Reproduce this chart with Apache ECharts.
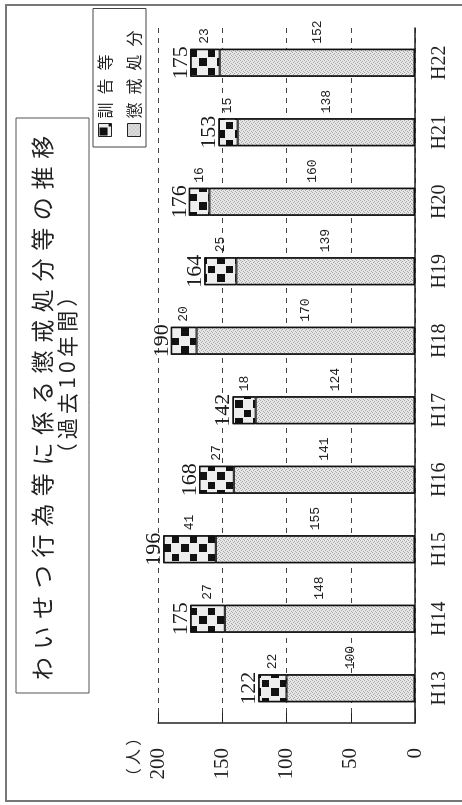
<!DOCTYPE html>
<html>
<head>
<meta charset="utf-8">
<script src="https://cdn.jsdelivr.net/npm/echarts@6/dist/echarts.min.js"></script>
<style>
  html, body { margin: 0; padding: 0; background: #fff; overflow: hidden; }
  #wrap { width: 462px; height: 805px; position: relative; overflow: hidden; }
  /* the scan is turned on its side: draw upright, then rotate */
  #chart {
    position: absolute; left: 0; top: 0;
    width: 805px; height: 462px;
    transform-origin: 0 0;
    transform: translate(0, 805px) rotate(-90deg);
  }
</style>
</head>
<body>
<div id="wrap"><div id="chart"></div></div>
<script>
var years = ['H13', 'H14', 'H15', 'H16', 'H17', 'H18', 'H19', 'H20', 'H21', 'H22']
var kunkoku = [22, 27, 41, 27, 18, 20, 25, 16, 15, 23]        // 訓告等
var choukai = [100, 148, 155, 141, 124, 170, 139, 160, 138, 152] // 懲戒処分
var totals = [122, 175, 196, 168, 142, 190, 164, 176, 153, 175]
var valueTicks = [0, 50, 100, 150, 200]

var serif = '"Liberation Serif", "DejaVu Serif", serif'
var mono = '"Liberation Mono", "DejaVu Sans Mono", monospace'
var jp = '"Noto Sans CJK JP", sans-serif'

// fill patterns (checker for 訓告等, grey stipple for 懲戒処分)
function checker() {
  var c = document.createElement('canvas')
  c.width = 18; c.height = 18
  var g = c.getContext('2d')
  g.fillStyle = '#eeeeee'; g.fillRect(0, 0, 18, 18)
  g.fillStyle = '#111'
  g.fillRect(1, 1, 8, 8)
  g.fillRect(10, 10, 7, 7)
  return c
}
function stipple() {
  var c = document.createElement('canvas')
  c.width = 4; c.height = 4
  var g = c.getContext('2d')
  g.fillStyle = '#e6e6e6'; g.fillRect(0, 0, 4, 4)
  g.fillStyle = '#a8a8a8'
  g.fillRect(0, 0, 1, 1); g.fillRect(2, 1, 1, 1); g.fillRect(1, 3, 1, 1); g.fillRect(3, 2, 1, 1)
  return c
}
function spaced(s, sp) {
  return s.split('').join(sp)
}

var chart = echarts.init(document.getElementById('chart'))

chart.setOption({
  backgroundColor: '#fff',
  animation: false,
  grid: { left: 82, right: 28, top: 158, bottom: 47 },
  legend: {
    data: ['訓告等', '懲戒処分'],
    orient: 'vertical',
    left: 658,
    top: 93,
    itemWidth: 13,
    itemHeight: 13,
    itemGap: 13,
    padding: [4, 22, 4, 10],
    borderColor: '#444',
    borderWidth: 1,
    icon: 'rect',
    itemStyle: { borderColor: '#222', borderWidth: 1 },
    formatter: function (name) { return spaced(name, '\u2002') },
    textStyle: { fontFamily: jp, fontSize: 16, color: '#222' }
  },
  xAxis: {
    type: 'category',
    data: years,
    axisLine: { lineStyle: { color: '#222', width: 1.5 } },
    axisTick: { inside: true, length: 5, lineStyle: { color: '#222' } },
    axisLabel: { margin: 15, fontFamily: serif, fontSize: 20, color: '#222' }
  },
  yAxis: {
    type: 'value',
    min: valueTicks[0],
    max: valueTicks[valueTicks.length - 1],
    interval: 50,
    axisLine: { show: true, lineStyle: { color: '#222', width: 1.5 } },
    axisTick: { show: true, inside: true, length: 10, lineStyle: { color: '#222' } },
    axisLabel: { margin: 25, fontFamily: serif, fontSize: 21, color: '#222' },
    splitLine: { lineStyle: { color: '#444', type: [5, 5], width: 1 } }
  },
  graphic: [
    {
      type: 'rect', silent: true,
      shape: { x: 4, y: 6, width: 796, height: 470 },
      style: { fill: 'none', stroke: '#777', lineWidth: 2 }
    },
    {
      type: 'rect', silent: true,
      shape: { x: 112, y: 16, width: 575, height: 73 },
      style: { fill: 'none', stroke: '#555', lineWidth: 1 }
    },
    {
      type: 'text', silent: true,
      style: {
        text: spaced('わいせつ行為等に係る懲戒処分等の推移', '\u2004'),
        x: 397, y: 42, textAlign: 'center', textVerticalAlign: 'middle', verticalAlign: 'middle',
        font: '23px ' + jp, fill: '#222'
      }
    },
    {
      type: 'text', silent: true,
      style: {
        text: spaced('（過去10年間）', '\u2009'),
        x: 430, y: 67, textAlign: 'center', textVerticalAlign: 'middle', verticalAlign: 'middle',
        font: '21px ' + jp, fill: '#222'
      }
    },
    {
      type: 'text', silent: true,
      style: {
        text: spaced('（人）', '\u2009'),
        x: 48, y: 133, textAlign: 'center', textVerticalAlign: 'middle', verticalAlign: 'middle',
        font: '16px ' + jp, fill: '#222'
      }
    }
  ],
  series: [
    {
      name: '懲戒処分',
      type: 'bar',
      stack: 'all',
      barWidth: 28,
      data: choukai,
      itemStyle: { color: { image: stipple(), repeat: 'repeat' }, borderColor: '#111', borderWidth: 1 },
      label: { show: true, position: 'right', distance: 5, fontFamily: mono, fontSize: 13, color: '#222' }
    },
    {
      name: '訓告等',
      type: 'bar',
      stack: 'all',
      barWidth: 28,
      data: kunkoku,
      itemStyle: { color: { image: checker(), repeat: 'repeat' }, borderColor: '#111', borderWidth: 1 },
      label: { show: true, position: 'right', distance: 5, fontFamily: mono, fontSize: 13, color: '#222' }
    },
    {
      name: '合計',
      type: 'bar',
      barWidth: 28,
      barGap: '-100%',
      data: totals,
      z: 3,
      silent: true,
      itemStyle: { color: 'rgba(0,0,0,0)', borderColor: '#111', borderWidth: 1.5 },
      label: { show: true, position: 'top', distance: -2, fontFamily: serif, fontSize: 22, color: '#1a1a1a' }
    }
  ]
})
</script>
</body>
</html>
